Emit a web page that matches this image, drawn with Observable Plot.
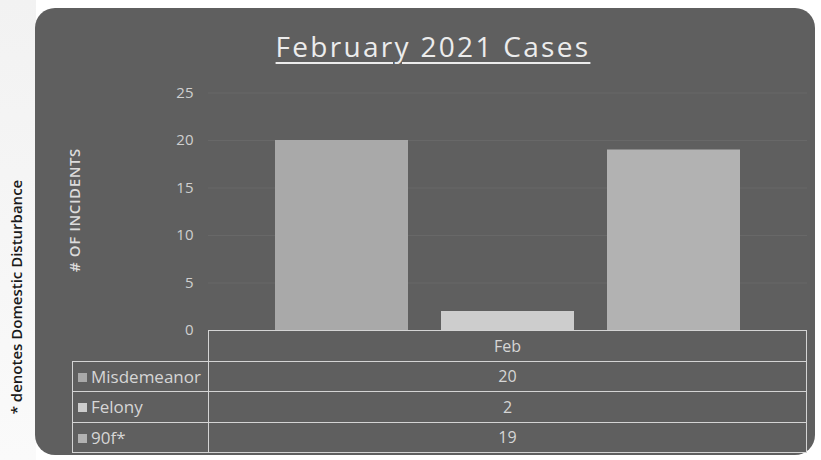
<!DOCTYPE html>
<html>
<head>
<meta charset="utf-8">
<script src="https://cdn.jsdelivr.net/npm/d3@7"></script>
<script src="https://cdn.jsdelivr.net/npm/@observablehq/plot@0.6"></script>
<style>
  html, body { margin: 0; padding: 0; background: #fff; }
  #page { position: relative; width: 821px; height: 460px; overflow: hidden; background: #fff; font-family: "Open Sans", "Lato", sans-serif; }
  #strip { position: absolute; left: 0; top: 0; width: 36px; height: 460px; background: linear-gradient(#f2f2f2, #fafafa); }
  #panel { position: absolute; left: 35px; top: 8px; width: 780px; height: 447px; border-radius: 20px; background: #5f5f5f; }
  #note { position: absolute; left: 16px; top: 297px; transform: translate(-50%, -50%) rotate(-90deg); white-space: nowrap; font-size: 15px; font-weight: 600; color: #1a1a1a; font-family: "Open Sans", sans-serif; }
  #title { position: absolute; left: 433px; top: 27px; transform: translateX(-50%); white-space: nowrap; font-size: 28px; color: #ececec; text-decoration: underline; text-underline-offset: 5px; text-decoration-thickness: 2px; letter-spacing: 2.3px; }
  #ylabel { position: absolute; left: 74px; top: 210px; transform: translate(-50%, -50%) rotate(-90deg); white-space: nowrap; font-size: 15px; font-weight: 600; color: #dcdcdc; letter-spacing: 0.6px; }
  #chart { position: absolute; left: 0; top: 0; }
  table.dt { position: absolute; border-collapse: collapse; color: #d6d6d6; font-size: 17px; }
  table.dt td { border: 1.5px solid #d4d4d4; padding: 0; height: 30.5px; box-sizing: border-box; }
  table.dt td.val { text-align: center; font-size: 16px; }
  table.dt td.lab { text-align: left; padding-left: 5px; white-space: nowrap; }
  table.dt td.blank { border: none; }
  .mk { display: inline-block; width: 9px; height: 9px; margin-right: 4px; vertical-align: 1px; }
</style>
</head>
<body>
<div id="page">
  <div id="strip"></div>
  <div id="panel"></div>
  <div id="note"></div>
  <div id="title"></div>
  <div id="ylabel"></div>
  <div id="chart"></div>
</div>
<script>
// ---- data ----
const chartTitle = "February 2021 Cases";
const footnote = "* denotes Domestic Disturbance";
const yAxisLabel = "# OF INCIDENTS";
const period = "Feb";
const series = ["Misdemeanor", "Felony", "90f*"];
const values = [20, 2, 19];
const seriesColors = ["#a9a9a9", "#cdcdcd", "#b2b2b2"];
const yTicks = [0, 5, 10, 15, 20, 25];

const rows = series.map((s, i) => ({series: s, value: values[i]}));

document.getElementById("title").textContent = chartTitle;
document.getElementById("note").textContent = footnote;
document.getElementById("ylabel").textContent = yAxisLabel;

const W = 821, H = 460;
const mL = 208, mR = 14, mT = 92.5, mB = 130;

const plot = Plot.plot({
  width: W,
  height: H,
  marginLeft: mL,
  marginRight: mR,
  marginTop: mT,
  marginBottom: mB,
  style: {background: "transparent", fontFamily: "'Open Sans', sans-serif"},
  x: {domain: series, paddingInner: 0.2, paddingOuter: 0.404, axis: null},
  y: {domain: [0, 25], ticks: yTicks, label: null},
  color: {domain: series, range: seriesColors},
  marks: [
    Plot.gridY(yTicks.filter(d => d > 0), {stroke: "#8a8a8a", strokeOpacity: 0.22}),
    Plot.barY(rows, {x: "series", y: "value", fill: "series"}),
    Plot.axisY({ticks: yTicks, tickSize: 0, tickPadding: 15, fill: "#cfcfcf", fontSize: 15, label: null})
  ]
});
document.getElementById("chart").appendChild(plot);

// ---- data table (built from the same arrays) ----
const yScale = plot.scale("y");
const tableTop = yScale.apply(0);
const rightLeft = mL, rightRight = W - mR;
const leftLeft = 72;

const table = document.createElement("table");
table.className = "dt";
table.style.left = leftLeft + "px";
table.style.top = tableTop + "px";
table.style.width = (rightRight - leftLeft) + "px";

const head = document.createElement("tr");
const blank = document.createElement("td");
blank.className = "blank";
blank.style.width = (rightLeft - leftLeft) + "px";
head.appendChild(blank);
const hc = document.createElement("td");
hc.className = "val";
hc.textContent = period;
head.appendChild(hc);
table.appendChild(head);

rows.forEach((r, i) => {
  const tr = document.createElement("tr");
  const l = document.createElement("td");
  l.className = "lab";
  const mk = document.createElement("span");
  mk.className = "mk";
  mk.style.background = seriesColors[i];
  l.appendChild(mk);
  l.appendChild(document.createTextNode(r.series));
  const v = document.createElement("td");
  v.className = "val";
  v.textContent = String(r.value);
  tr.appendChild(l);
  tr.appendChild(v);
  table.appendChild(tr);
});
document.getElementById("page").appendChild(table);
</script>
</body>
</html>
